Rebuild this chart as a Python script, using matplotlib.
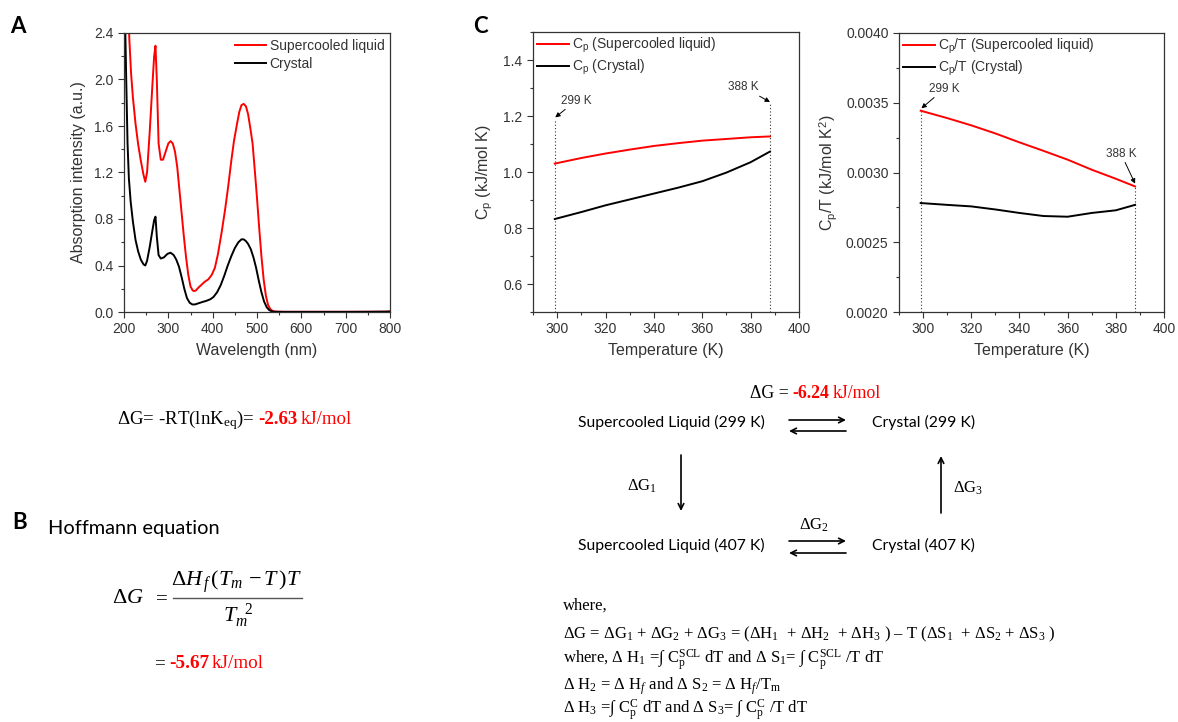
import matplotlib
matplotlib.use("Agg")
import matplotlib.pyplot as plt
from matplotlib.transforms import Affine2D
from matplotlib.ticker import MultipleLocator, FormatStrFormatter
from matplotlib.lines import Line2D
from matplotlib.patches import FancyArrowPatch

# ---------------- data ----------------
# Panel A: absorption spectra
scl_wl = [209, 212, 216, 220, 226, 232, 238, 244, 248, 252, 258, 264, 268, 271,
          274, 278, 283, 288, 294, 300, 305, 310, 315, 320, 325, 330, 335, 340,
          345, 350, 355, 358, 362, 368, 375, 382, 390, 398, 405, 412, 420, 428,
          435, 442, 448, 455, 460, 465, 470, 475, 480, 485, 490, 495, 500, 505,
          510, 515, 520, 525, 530, 535, 540, 560, 600, 650, 700, 750, 790, 800]
scl_abs = [2.70, 2.35, 2.05, 1.85, 1.62, 1.44, 1.30, 1.18, 1.12, 1.20, 1.55, 1.95,
           2.20, 2.29, 2.00, 1.45, 1.31, 1.31, 1.38, 1.45, 1.47, 1.45, 1.38, 1.25,
           1.05, 0.85, 0.65, 0.47, 0.32, 0.22, 0.185, 0.18, 0.185, 0.21, 0.235,
           0.26, 0.28, 0.32, 0.38, 0.50, 0.68, 0.88, 1.08, 1.30, 1.47, 1.62, 1.72,
           1.78, 1.79, 1.77, 1.70, 1.58, 1.45, 1.22, 0.98, 0.72, 0.48, 0.28, 0.14,
           0.06, 0.025, 0.01, 0.004, 0.002, 0.002, 0.002, 0.002, 0.002, 0.003, 0.006]

cry_wl = [202, 205, 208, 211, 215, 220, 226, 232, 238, 244, 248, 252, 258, 264,
          268, 271, 274, 278, 283, 290, 298, 305, 312, 318, 324, 330, 336, 342,
          348, 354, 360, 368, 376, 385, 395, 402, 410, 418, 426, 434, 442, 450,
          458, 465, 470, 475, 480, 486, 492, 498, 504, 510, 516, 522, 528, 534,
          540, 560, 600, 700, 800]
cry_abs = [2.60, 2.00, 1.45, 1.15, 0.95, 0.78, 0.62, 0.52, 0.45, 0.41, 0.40, 0.44,
           0.56, 0.70, 0.79, 0.82, 0.65, 0.49, 0.46, 0.47, 0.50, 0.51, 0.49, 0.45,
           0.39, 0.30, 0.20, 0.12, 0.08, 0.065, 0.065, 0.075, 0.085, 0.095, 0.11,
           0.13, 0.17, 0.23, 0.31, 0.40, 0.48, 0.55, 0.60, 0.625, 0.625, 0.61,
           0.585, 0.54, 0.47, 0.38, 0.27, 0.17, 0.09, 0.04, 0.015, 0.005, 0.002,
           0.001, 0.001, 0.001, 0.003]

# Panel C: heat capacity between 299 K and 388 K
temp = [299, 310, 320, 330, 340, 350, 360, 370, 380, 388]
cp_scl = [1.030, 1.050, 1.066, 1.080, 1.093, 1.103, 1.112, 1.118, 1.124, 1.127]
cp_cry = [0.832, 0.857, 0.881, 0.902, 0.923, 0.944, 0.967, 0.998, 1.035, 1.073]
cpt_scl = [0.003443, 0.003390, 0.003338, 0.003280, 0.003216, 0.003155, 0.003092,
           0.003020, 0.002955, 0.002900]
cpt_cry = [0.002781, 0.002768, 0.002757, 0.002735, 0.002710, 0.002688, 0.002683,
           0.002710, 0.002729, 0.002768]

T_low, T_high = 299, 388

# ---------------- figure setup ----------------
W, H = 1178, 722
plt.rcParams.update({
    "font.family": ["Liberation Sans", "DejaVu Sans"],
    "mathtext.fontset": "custom",
    "mathtext.rm": "Liberation Serif",
    "mathtext.it": "Liberation Serif:italic",
    "mathtext.bf": "Liberation Serif:bold",
    "axes.edgecolor": "#333333",
    "axes.linewidth": 0.9,
})
fig = plt.figure(figsize=(W / 100, H / 100), dpi=100)
PX = Affine2D().scale(1, -1).translate(0, H)   # pixel coords, origin top-left
GREY = "#333333"


def rect(l, t, r, b):
    return [l / W, 1 - b / H, (r - l) / W, (b - t) / H]


def style(ax):
    ax.tick_params(which="both", direction="out", top=False, right=False,
                   colors=GREY, labelcolor=GREY, labelsize=10, width=0.8)
    ax.tick_params(which="major", length=4.5, pad=3)
    ax.tick_params(which="minor", length=2.5)


# ---------------- panel A ----------------
axA = fig.add_axes(rect(124, 33, 390, 312))
axA.plot(scl_wl, scl_abs, color="#ff0000", lw=1.4, label="Supercooled liquid")
axA.plot(cry_wl, cry_abs, color="black", lw=1.4, label="Crystal")
axA.set_xlim(200, 800)
axA.set_ylim(0, 2.4)
axA.xaxis.set_major_locator(MultipleLocator(100))
axA.xaxis.set_minor_locator(MultipleLocator(50))
axA.yaxis.set_major_locator(MultipleLocator(0.4))
axA.yaxis.set_minor_locator(MultipleLocator(0.2))
axA.yaxis.set_major_formatter(FormatStrFormatter("%.1f"))
style(axA)
axA.set_xlabel("Wavelength (nm)", fontsize=11.5, color=GREY, labelpad=5)
axA.set_ylabel("Absorption intensity (a.u.)", fontsize=11.5, color=GREY, labelpad=6)
axA.legend(loc="upper right", bbox_to_anchor=(1.0, 1.0), frameon=False,
           fontsize=10, handlelength=2.2, handletextpad=0.3, labelspacing=0.3,
           borderaxespad=0.2, borderpad=0.2, labelcolor=GREY)

# ---------------- panel C (Cp) ----------------
axC1 = fig.add_axes(rect(533, 32, 799, 312))
axC1.vlines([T_low, T_high], 0.5, [1.19, 1.25], colors=GREY, linestyles=(0, (1, 2)), lw=0.8)
axC1.plot(temp, cp_scl, color="#ff0000", lw=1.4,
          label=r"C$_\mathregular{p}$ (Supercooled liquid)")
axC1.plot(temp, cp_cry, color="black", lw=1.4, label=r"C$_\mathregular{p}$ (Crystal)")
axC1.set_xlim(290, 400)
axC1.set_ylim(0.5, 1.5)
axC1.xaxis.set_major_locator(MultipleLocator(20))
axC1.xaxis.set_minor_locator(MultipleLocator(10))
axC1.yaxis.set_major_locator(MultipleLocator(0.2))
axC1.yaxis.set_minor_locator(MultipleLocator(0.1))
axC1.set_yticks([0.6, 0.8, 1.0, 1.2, 1.4])
axC1.yaxis.set_major_formatter(FormatStrFormatter("%.1f"))
style(axC1)
axC1.set_xlabel("Temperature (K)", fontsize=11.5, color=GREY, labelpad=5)
axC1.set_ylabel(r"C$_\mathregular{p}$ (kJ/mol K)", fontsize=11.5, color=GREY, labelpad=6)
axC1.legend(loc="upper left", bbox_to_anchor=(0.0, 1.0), frameon=False,
            fontsize=10, handlelength=2.3, handletextpad=0.2, labelspacing=0.2,
            borderaxespad=0.1, borderpad=0.2, labelcolor=GREY)
arr = dict(arrowstyle="-|>", color="black", lw=0.7, mutation_scale=7,
           shrinkA=0, shrinkB=0)
axC1.annotate("299 K", xy=(299.2, 1.195), xytext=(301.5, 1.255), fontsize=8.5,
              color=GREY, ha="left", va="center", arrowprops=arr)
axC1.annotate("388 K", xy=(388, 1.25), xytext=(383.5, 1.302), fontsize=8.5,
              color=GREY, ha="right", va="center", arrowprops=arr)

# ---------------- panel C (Cp/T) ----------------
axC2 = fig.add_axes(rect(899, 33, 1164, 312))
axC2.vlines([T_low, T_high], 0.002, [cpt_scl[0], cpt_scl[-1]], colors=GREY,
            linestyles=(0, (1, 2)), lw=0.8)
axC2.plot(temp, cpt_scl, color="#ff0000", lw=1.4,
          label=r"C$_\mathregular{p}$/T (Supercooled liquid)")
axC2.plot(temp, cpt_cry, color="black", lw=1.4, label=r"C$_\mathregular{p}$/T (Crystal)")
axC2.set_xlim(290, 400)
axC2.set_ylim(0.002, 0.004)
axC2.xaxis.set_major_locator(MultipleLocator(20))
axC2.xaxis.set_minor_locator(MultipleLocator(10))
axC2.yaxis.set_major_locator(MultipleLocator(0.0005))
axC2.yaxis.set_minor_locator(MultipleLocator(0.00025))
axC2.yaxis.set_major_formatter(FormatStrFormatter("%.4f"))
style(axC2)
axC2.set_xlabel("Temperature (K)", fontsize=11.5, color=GREY, labelpad=5)
axC2.set_ylabel(r"C$_\mathregular{p}$/T (kJ/mol K$^\mathregular{2}$)", fontsize=11.5,
                color=GREY, labelpad=4)
axC2.legend(loc="upper left", bbox_to_anchor=(0.0, 1.0), frameon=False,
            fontsize=10, handlelength=2.3, handletextpad=0.2, labelspacing=0.2,
            borderaxespad=0.1, borderpad=0.2, labelcolor=GREY)
axC2.annotate("299 K", xy=(299.3, 0.00346), xytext=(302.5, 0.0036), fontsize=8.5,
              color=GREY, ha="left", va="center", arrowprops=arr)
axC2.annotate("388 K", xy=(388, 0.00292), xytext=(388.5, 0.003135), fontsize=8.5,
              color=GREY, ha="right", va="center", arrowprops=arr)

# ---------------- panel letters ----------------
for letter, x, y in [("A", 10, 33), ("C", 473, 33), ("B", 12, 529)]:
    fig.text(x, y, letter, transform=PX, fontsize=16, weight="bold",
             family="Lato", va="baseline", ha="left")

# ---------------- text blocks ----------------
renderer = fig.canvas.get_renderer()
SERIF = "Liberation Serif"
RED = "#ff0000"


def run(x, y, pieces, size, family=SERIF):
    """Draw text pieces one after another on a shared baseline."""
    for text, color, weight, gap in pieces:
        t = fig.text(x, y, text, transform=PX, fontsize=size, family=family,
                     color=color, weight=weight, va="baseline", ha="left")
        x += t.get_window_extent(renderer).width + gap


# free energy from equilibrium constant
run(117, 424, [(r"ΔG= -RT(lnK$_\mathrm{eq}$)=", "black", "normal", 4),
               ("-2.63", RED, "bold", 3),
               ("kJ/mol", RED, "normal", 0)], 13.6)

# panel B: Hoffmann equation
fig.text(48, 534, "Hoffmann equation", transform=PX, fontsize=14.4, family="Lato",
         va="baseline", ha="left")
fig.text(112, 603, r"$\Delta G$", transform=PX, fontsize=16, family=SERIF,
         va="baseline", ha="left")
fig.text(152, 603, r"$=$", transform=PX, fontsize=15, family=SERIF,
         va="baseline", ha="left")
fig.add_artist(Line2D([173, 302], [598, 598], transform=PX, color="#555555", lw=1.0))
fig.text(237, 586, r"$\Delta H_{\,f}\,(T_{m}\,-T\,)T$", transform=PX, fontsize=16,
         family=SERIF, va="baseline", ha="center")
fig.text(223, 622, r"$T_{m}^{\ \ \mathrm{2}}$", transform=PX, fontsize=16,
         family=SERIF, va="baseline", ha="left")
run(154, 668, [("=", "black", "normal", 4),
               ("-5.67", RED, "bold", 3),
               ("kJ/mol", RED, "normal", 0)], 13.8)

# panel C: thermodynamic cycle
run(750, 398, [("ΔG =", "black", "normal", 4),
               ("-6.24", RED, "bold", 3),
               ("kJ/mol", RED, "normal", 0)], 12.8)
SANS = "Lato"
for label, x, y in [("Supercooled Liquid (299 K)", 578, 427),
                    ("Crystal (299 K)", 872, 427),
                    ("Supercooled Liquid (407 K)", 578, 550),
                    ("Crystal (407 K)", 872, 550)]:
    fig.text(x, y, label, transform=PX, fontsize=11.3, family=SANS,
             va="baseline", ha="left")

for (x0, y0), (x1, y1) in [((789, 420), (846, 420)), ((846, 431), (789, 431)),
                           ((789, 541), (846, 541)), ((846, 553), (789, 553)),
                           ((681, 455), (681, 511)), ((941, 513), (941, 456))]:
    fig.add_artist(FancyArrowPatch((x0, y0), (x1, y1), transform=PX,
                                   arrowstyle="->", mutation_scale=10, lw=1.2,
                                   color="black", shrinkA=0, shrinkB=0))

fig.text(627, 491, r"ΔG$_\mathrm{1}$", transform=PX, fontsize=12, family=SERIF,
         va="baseline", ha="left")
fig.text(953, 493, r"ΔG$_\mathrm{3}$", transform=PX, fontsize=12, family=SERIF,
         va="baseline", ha="left")
fig.text(799, 530, r"ΔG$_\mathrm{2}$", transform=PX, fontsize=12, family=SERIF,
         va="baseline", ha="left")

lines = [
    "where,",
    r"ΔG = ΔG$_\mathrm{1}$ + ΔG$_\mathrm{2}$ + ΔG$_\mathrm{3}$ = (ΔH$_\mathrm{1}$  + "
    r"ΔH$_\mathrm{2}$  + ΔH$_\mathrm{3}$ ) – T (ΔS$_\mathrm{1}$  + ΔS$_\mathrm{2}$ + "
    r"ΔS$_\mathrm{3}$ )",
    r"where, Δ H$_\mathrm{1}$ =∫ $\mathrm{C_p^{SCL}}$ dT and Δ S$_\mathrm{1}$= ∫ "
    r"$\mathrm{C_p^{SCL}}$ /T dT",
    r"Δ H$_\mathrm{2}$ = Δ H$_{f}$ and Δ S$_\mathrm{2}$ = Δ H$_{f}$/T$_\mathrm{m}$",
    r"Δ H$_\mathrm{3}$ =∫ $\mathrm{C_p^{C}}$ dT and Δ S$_\mathrm{3}$= ∫ "
    r"$\mathrm{C_p^{C}}$ /T dT",
]
for s, y in zip(lines, [610, 638, 664, 690, 714]):
    fig.text(563, y, s, transform=PX, fontsize=12, family=SERIF,
             va="baseline", ha="left")

fig.savefig("out.png", dpi=100)
